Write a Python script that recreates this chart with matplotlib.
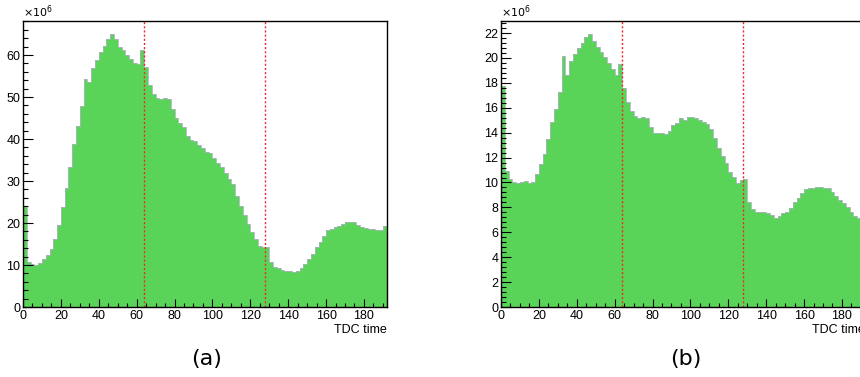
import numpy as np
import matplotlib
matplotlib.use('Agg')
import matplotlib.pyplot as plt
from matplotlib.ticker import MultipleLocator

plt.rcParams['font.family'] = ['Liberation Sans', 'DejaVu Sans']

# TDC time bins, 2 units wide, 0..192
bin_edges = np.arange(0, 194, 2)

# counts per bin in units of 1e6
counts_a = [24.0, 10.6, 10.2, 10.1, 10.4, 11.4, 12.4, 13.8, 16.1, 19.5,
            23.9, 28.3, 33.3, 38.8, 43.1, 47.9, 54.3, 53.5, 56.8, 58.8,
            60.6, 62.2, 63.7, 64.9, 63.9, 61.8, 61.3, 60.0, 59.0, 58.2,
            57.8, 61.2, 57.2, 52.9, 50.6, 49.8, 49.5, 49.8, 49.5, 47.1,
            45.0, 43.9, 42.8, 40.7, 39.8, 39.6, 38.6, 37.9, 37.0, 36.6,
            35.4, 34.2, 33.3, 32.0, 30.5, 29.2, 26.4, 24.0, 21.8, 19.8,
            17.9, 16.1, 14.6, 14.4, 14.2, 10.6, 9.6, 9.2, 8.8, 8.6,
            8.6, 8.3, 8.6, 9.3, 10.3, 11.4, 12.7, 14.3, 15.5, 16.8,
            18.3, 18.6, 19.0, 19.4, 19.8, 20.2, 20.3, 20.2, 19.6, 19.1,
            18.8, 18.6, 18.6, 18.3, 18.3, 19.4]

counts_b = [17.75, 10.95, 10.25, 10.0, 9.93, 10.04, 10.15, 9.96, 10.04, 10.7,
            11.5, 12.27, 13.47, 14.83, 15.9, 17.24, 20.16, 18.66, 19.73, 20.3,
            20.78, 21.23, 21.66, 21.9, 21.39, 20.9, 20.45, 20.05, 19.62, 19.12,
            18.63, 19.49, 17.57, 16.49, 15.74, 15.37, 15.2, 15.25, 15.2, 14.45,
            13.96, 13.96, 14.0, 13.87, 14.14, 14.62, 14.76, 15.16, 15.02, 15.29,
            15.27, 15.16, 15.02, 14.84, 14.68, 14.33, 13.55, 12.75, 12.13, 11.6,
            10.87, 10.42, 9.93, 10.2, 10.25, 8.41, 7.84, 7.63, 7.63, 7.63,
            7.57, 7.39, 7.17, 7.31, 7.52, 7.66, 7.93, 8.41, 8.73, 9.13,
            9.5, 9.56, 9.59, 9.62, 9.62, 9.59, 9.53, 9.26, 8.92, 8.59,
            8.33, 8.0, 7.6, 7.33, 7.17, 7.0]

cut_lines = [64, 128]
panel_labels = ['(a)', '(b)']

W, H = 860, 377
fig = plt.figure(figsize=(W / 100, H / 100), dpi=100)


def draw_panel(left_px, counts, ymax, ymajor, label, label_x):
    ax = fig.add_axes([left_px / W, (H - 307) / H, 363.7 / W, 286 / H])
    ax.stairs(counts, bin_edges, fill=True, color='#59d459', lw=0)
    ax.stairs(counts, bin_edges, baseline=None, color='#aab4bf', lw=0.6)
    for x in cut_lines:
        ax.axvline(x, color='#f02828', lw=1.0, ls=(0, (1.5, 1.5)))
    ax.set_xlim(0, 192)
    ax.set_ylim(0, ymax)
    ax.xaxis.set_major_locator(MultipleLocator(20))
    ax.xaxis.set_minor_locator(MultipleLocator(5))
    ax.yaxis.set_major_locator(MultipleLocator(ymajor))
    ax.yaxis.set_minor_locator(MultipleLocator(ymajor / 5))
    ax.tick_params(axis='both', which='both', direction='in', top=False,
                   right=False, labelsize=9, width=0.8)
    ax.tick_params(axis='y', which='major', length=7.2, pad=2)
    ax.tick_params(axis='y', which='minor', length=3.8)
    ax.tick_params(axis='x', which='major', length=5.8, pad=2.5)
    ax.tick_params(axis='x', which='minor', length=3.0)
    for s in ax.spines.values():
        s.set_linewidth(1.0)
    ax.set_xlabel('TDC time', loc='right', fontsize=9, labelpad=1)
    ax.text(0, 1.004, r'$\times10^{6}$', transform=ax.transAxes,
            ha='left', va='bottom', fontsize=8)
    fig.text(label_x / W, 1 - 359 / H, label, ha='center', va='center',
             fontsize=16, family='DejaVu Sans')
    return ax


draw_panel(23, counts_a, 68.1, 10, panel_labels[0], 207)
draw_panel(501, counts_b, 22.97, 2, panel_labels[1], 686)

fig.savefig('out.png', dpi=100)
